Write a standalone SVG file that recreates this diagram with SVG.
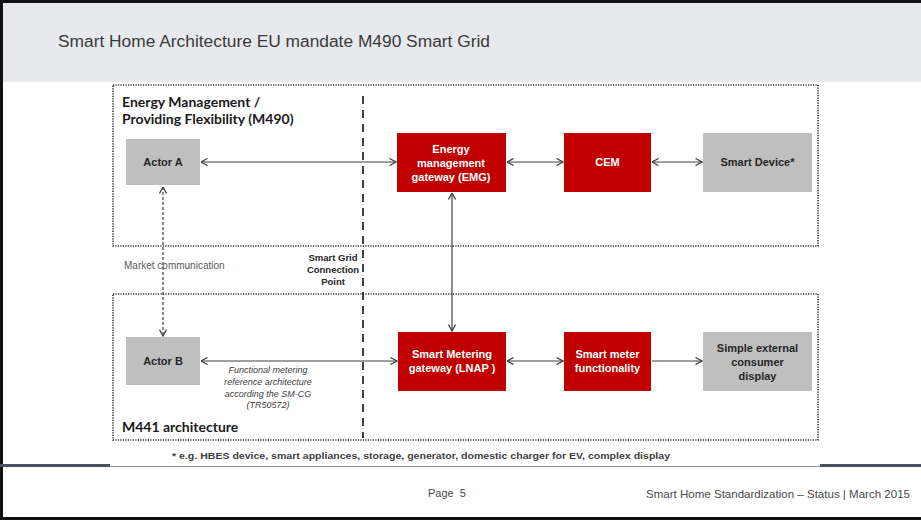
<svg xmlns="http://www.w3.org/2000/svg" width="921" height="520" viewBox="0 0 921 520">
<defs>
<marker id="ah" viewBox="0 0 8 8" refX="7.5" refY="4" markerWidth="8" markerHeight="8" markerUnits="userSpaceOnUse" orient="auto-start-reverse">
<path d="M1,0.5 L7.5,4 L1,7.5" fill="none" stroke="#404040" stroke-width="1.3"/>
</marker>
<style>
.red{fill:#c00000;}
.grey{fill:#bfbfbf;}
.wt{font-family:"Liberation Sans",Arial,sans-serif;font-weight:bold;font-size:11px;fill:#ffffff;text-anchor:middle;}
.dt{font-family:"Liberation Sans",Arial,sans-serif;font-weight:bold;font-size:11px;fill:#262626;text-anchor:middle;}
.conn{stroke:#404040;stroke-width:1.2;fill:none;}
.dotbox{fill:none;stroke:#333333;stroke-width:1.6;stroke-dasharray:1.2 1.3;}
.hd{font-family:Lato,"Liberation Sans",sans-serif;font-weight:bold;font-size:14px;fill:#1a1a1a;}
.it{font-family:"Liberation Sans",Arial,sans-serif;font-style:italic;font-size:9px;fill:#404040;text-anchor:middle;}
.ft{font-family:"Liberation Sans",Arial,sans-serif;font-size:11px;fill:#4a4a4a;}
</style>
</defs>
<rect x="0" y="0" width="921" height="520" fill="#ffffff"/>
<!-- header -->
<rect x="0" y="3" width="921" height="79" fill="#e8e9ed"/>
<text x="58" y="47" font-family="'Liberation Sans',Arial,sans-serif" font-size="16" fill="#3a3a3a" textLength="432" lengthAdjust="spacingAndGlyphs">Smart Home Architecture EU mandate M490 Smart Grid</text>
<!-- frame -->
<rect x="0" y="0" width="921" height="3" fill="#111"/>
<rect x="0" y="517" width="921" height="3" fill="#111"/>
<rect x="0" y="0" width="3" height="520" fill="#111"/>
<!-- footer separator -->
<rect x="0" y="464" width="110" height="3" fill="#4a5260"/>
<rect x="820" y="464" width="101" height="3" fill="#4a5260"/>
<rect x="110" y="466" width="710" height="1" fill="#8a9098"/>
<!-- dotted boxes -->
<rect class="dotbox" x="113" y="85" width="705" height="161"/>
<rect class="dotbox" x="113" y="294" width="705" height="146"/>
<text class="hd" x="122" y="107">Energy Management /</text>
<text class="hd" x="122" y="124">Providing Flexibility (M490)</text>
<text class="hd" x="122" y="432" font-size="14.5">M441 architecture</text>
<!-- smart grid connection point -->
<line x1="363" y1="96" x2="363" y2="438" stroke="#404040" stroke-width="2" stroke-dasharray="8 6"/>
<text x="333" y="261" font-family="'Liberation Sans',Arial,sans-serif" font-weight="bold" font-size="9.5" fill="#262626" text-anchor="middle">Smart Grid</text>
<text x="333" y="273" font-family="'Liberation Sans',Arial,sans-serif" font-weight="bold" font-size="9.5" fill="#262626" text-anchor="middle">Connection</text>
<text x="333" y="285" font-family="'Liberation Sans',Arial,sans-serif" font-weight="bold" font-size="9.5" fill="#262626" text-anchor="middle">Point</text>
<text x="124" y="269" font-family="'Liberation Sans',Arial,sans-serif" font-size="10" fill="#595959">Market communication</text>
<!-- connectors -->
<g id="connectors">
<line class="conn" x1="201" y1="162" x2="396" y2="162" marker-start="url(#ah)" marker-end="url(#ah)"/>
<line class="conn" x1="507" y1="162" x2="563" y2="162" marker-start="url(#ah)" marker-end="url(#ah)"/>
<line class="conn" x1="652" y1="162" x2="702" y2="162" marker-start="url(#ah)" marker-end="url(#ah)"/>
<line class="conn" x1="452" y1="193" x2="452" y2="331" marker-start="url(#ah)" marker-end="url(#ah)"/>
<line class="conn" x1="163" y1="187" x2="163" y2="336" stroke-dasharray="3 2" marker-start="url(#ah)" marker-end="url(#ah)"/>
<line class="conn" x1="201" y1="361" x2="397" y2="361" marker-start="url(#ah)" marker-end="url(#ah)"/>
<line class="conn" x1="507" y1="361" x2="563" y2="361" marker-start="url(#ah)" marker-end="url(#ah)"/>
<line class="conn" x1="652" y1="361" x2="702" y2="361" marker-end="url(#ah)"/>
</g>
<text class="it" x="268" y="373">Functional metering</text>
<text class="it" x="268" y="385">reference architecture</text>
<text class="it" x="268" y="397">according the SM-CG</text>
<text class="it" x="268" y="408">(TR50572)</text>
<!-- nodes -->
<g id="actorA"><rect class="grey" x="126" y="139" width="74" height="46"/><text class="dt" x="163" y="166">Actor A</text></g>
<g id="emg"><rect class="red" x="397" y="133" width="109" height="59"/>
<text class="wt" x="451" y="153">Energy</text><text class="wt" x="451" y="167">management</text><text class="wt" x="451" y="181">gateway (EMG)</text></g>
<g id="cem"><rect class="red" x="564" y="133" width="87" height="59"/><text class="wt" x="607.5" y="166">CEM</text></g>
<g id="smartDevice"><rect class="grey" x="703" y="133" width="109" height="59"/><text class="dt" x="757.5" y="166">Smart Device*</text></g>
<g id="actorB"><rect class="grey" x="126" y="337" width="74" height="48"/><text class="dt" x="163" y="365">Actor B</text></g>
<g id="lnap"><rect class="red" x="398" y="332" width="108" height="59"/>
<text class="wt" x="452" y="358">Smart Metering</text><text class="wt" x="452" y="372">gateway (LNAP )</text></g>
<g id="smf"><rect class="red" x="564" y="332" width="87" height="59"/>
<text class="wt" x="607.5" y="358">Smart meter</text><text class="wt" x="607.5" y="372">functionality</text></g>
<g id="display"><rect class="grey" x="703" y="332" width="109" height="59"/>
<text class="dt" x="757.5" y="352">Simple external</text><text class="dt" x="757.5" y="366">consumer</text><text class="dt" x="757.5" y="380">display</text></g>
<!-- footnote -->
<text x="172" y="459" font-family="'Liberation Sans',Arial,sans-serif" font-weight="bold" font-size="9" fill="#404040" textLength="498" lengthAdjust="spacingAndGlyphs">* e.g. HBES device, smart appliances, storage, generator, domestic charger for EV, complex display</text>
<!-- footer -->
<text class="ft" x="428" y="497" xml:space="preserve">Page  5</text>
<text class="ft" x="646" y="498" textLength="264" lengthAdjust="spacingAndGlyphs">Smart Home Standardization – Status | March 2015</text>
</svg>
